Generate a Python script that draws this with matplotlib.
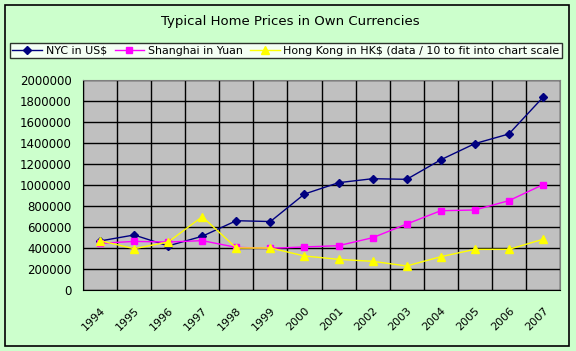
import numpy as np
import matplotlib
matplotlib.use("Agg")
from matplotlib import pyplot as plt
from matplotlib.patches import Rectangle

years = ["1994", "1995", "1996", "1997", "1998", "1999", "2000",
         "2001", "2002", "2003", "2004", "2005", "2006", "2007"]
nyc = [467000, 524000, 420000, 512000, 660000, 652000, 914000,
       1022000, 1060000, 1054000, 1240000, 1394000, 1486000, 1835000]
shanghai = [444000, 463000, 457000, 470000, 406000, 397000, 410000,
            422000, 498000, 628000, 755000, 762000, 851000, 1003000]
hongkong = [470000, 393000, 457000, 698000, 400000, 400000, 324000,
            292000, 273000, 229000, 317000, 387000, 387000, 483000]

bg = "#CCFFCC"
fig = plt.figure(figsize=(5.76, 3.51), dpi=100, facecolor=bg)

# outer chart border
fig.patches.append(Rectangle((5 / 576, 5 / 351), 564 / 576, 341 / 351,
                             transform=fig.transFigure, fill=False,
                             edgecolor="black", linewidth=1.2))

ax = fig.add_axes([83 / 576, 61 / 351, 477 / 576, 210 / 351])
ax.set_facecolor("#C0C0C0")

x = np.arange(len(years))
l1, = ax.plot(x, nyc, color="#000080", marker="D", markersize=4, linewidth=1,
              label="NYC in US$")
l2, = ax.plot(x, shanghai, color="#FF00FF", marker="s", markersize=5, linewidth=1,
              label="Shanghai in Yuan")
l3, = ax.plot(x, hongkong, color="#FFFF00", marker="^", markersize=6, linewidth=1,
              label="Hong Kong in HK$ (data / 10 to fit into chart scale")

ax.set_xlim(-0.5, len(years) - 0.5)
ax.set_ylim(0, 2000000)
ax.set_yticks(np.arange(0, 2000001, 200000))
ax.set_yticklabels([str(v) for v in range(0, 2000001, 200000)], fontsize=8.5)
ax.tick_params(axis="y", length=0, pad=8)

ax.set_xticks(x)
ax.set_xticklabels(years, fontsize=8, rotation=45, ha="right",
                   rotation_mode="anchor")
ax.tick_params(axis="x", length=0, pad=11)
ax.set_xticks(np.arange(-0.5, len(years), 1), minor=True)
ax.tick_params(axis="x", which="minor", length=0)

ax.grid(True, axis="y", which="major", color="black", linewidth=1)
ax.grid(True, axis="x", which="minor", color="black", linewidth=1)
ax.grid(False, axis="x", which="major")
ax.set_axisbelow(True)

for side in ["left", "bottom"]:
    ax.spines[side].set_color("black")
for side in ["top", "right"]:
    ax.spines[side].set_color("#808080")

fig.text(290 / 576, 1 - 22 / 351, "Typical Home Prices in Own Currencies",
         ha="center", va="center", fontsize=9.5)

leg = fig.legend(handles=[l1, l2, l3], loc="center",
                 bbox_to_anchor=(286 / 576, 1 - 50.5 / 351), ncol=3,
                 fontsize=7.95, frameon=True, fancybox=False,
                 handlelength=2.7, handletextpad=0.3, columnspacing=0.7,
                 borderpad=0.25, borderaxespad=0)
leg.get_frame().set_edgecolor("black")
leg.get_frame().set_linewidth(1)
leg.get_frame().set_facecolor("white")

fig.savefig("out.png", dpi=100, facecolor=bg)
